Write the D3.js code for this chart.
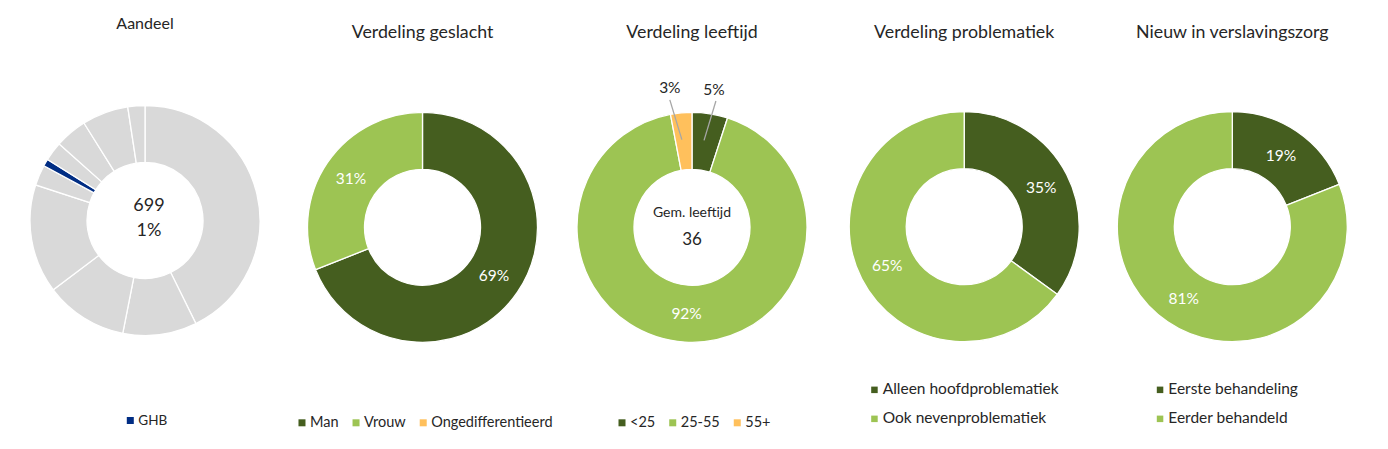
<!DOCTYPE html>
<html>
<head>
<meta charset="utf-8">
<script src="https://cdn.jsdelivr.net/npm/d3@7"></script>
<style>
  html, body { margin: 0; padding: 0; background: #fff; }
  svg text { font-family: Lato, "Open Sans", sans-serif; }
</style>
</head>
<body>
<div id="chart"></div>
<script>
/* ── Data ──────────────────────────────────────────────────── */
const titles = ['Aandeel', 'Verdeling geslacht', 'Verdeling leeftijd',
                'Verdeling problematiek', 'Nieuw in verslavingszorg'];

// share of GHB among all main problems (other slices are the other substances)
const shareValues = [42.7, 10.4, 11.6, 15.3, 2.9, 1.0, 2.7, 4.5, 6.5, 2.4];
const shareHighlight = 5;
const shareLabels = ['GHB'];
const shareCount = '699';
const sharePct = '1%';

const genderLabels = ['Man', 'Vrouw', 'Ongedifferentieerd'];
const genderValues = [69, 31, 0];

const ageLabels = ['<25', '25-55', '55+'];
const ageValues = [5, 92, 3];
const ageMeanLabel = 'Gem. leeftijd';
const ageMean = '36';

const problemLabels = ['Alleen hoofdproblematiek', 'Ook nevenproblematiek'];
const problemValues = [35, 65];

const newLabels = ['Eerste behandeling', 'Eerder behandeld'];
const newValues = [19, 81];

/* ── Style ─────────────────────────────────────────────────── */
const C = {
  dark:   '#455e1f',
  light:  '#9dc453',
  orange: '#ffc05c',
  grey:   '#d9d9d9',
  blue:   '#002d84',
  text:   '#262626',
  leader: '#a6a6a6'
};

const W = 1388, H = 449;
const R_OUT = 115, R_IN = 58;
const R_MID = (R_OUT + R_IN) / 2;

const svg = d3.select('#chart').append('svg')
  .attr('width', W).attr('height', H);

const pie = d3.pie().sort(null).value(d => d);
const arc = d3.arc().innerRadius(R_IN).outerRadius(R_OUT);
const midArc = d3.arc().innerRadius(R_MID).outerRadius(R_MID);

/* ── Helpers ───────────────────────────────────────────────── */
function donut(g, values, colors) {
  const arcs = pie(values);
  g.selectAll('path')
    .data(arcs)
    .join('path')
    .attr('d', arc)
    .attr('fill', (d, i) => colors[i])
    .attr('stroke', '#fff')
    .attr('stroke-width', d => d.value > 0 ? 1.3 : 0);
  return arcs;
}

function pctLabels(g, arcs, skip) {
  arcs.forEach((a, i) => {
    if (a.value === 0 || (skip && skip.includes(i))) return;
    const [x, y] = midArc.centroid(a);
    g.append('text')
      .attr('x', x).attr('y', y + 5.5)
      .attr('text-anchor', 'middle')
      .attr('font-size', 15.5)
      .attr('fill', '#fff')
      .text(`${a.value}%`);
  });
}

function title(g, txt, y, size) {
  g.append('text')
    .attr('x', 0).attr('y', y)
    .attr('text-anchor', 'middle')
    .attr('font-size', size)
    .attr('fill', C.text)
    .text(txt);
}

// horizontal legend, centred on the chart column
function legendRow(g, labels, colors, y, size, cxOff) {
  const lg = g.append('g');
  let x = 0;
  labels.forEach((lab, i) => {
    lg.append('rect')
      .attr('x', x).attr('y', y - 8)
      .attr('width', 7).attr('height', 7)
      .attr('fill', colors[i]);
    const t = lg.append('text')
      .attr('x', x + 11.5).attr('y', y)
      .attr('font-size', size)
      .attr('fill', C.text)
      .text(lab);
    x += 11.5 + t.node().getComputedTextLength() + 14;
  });
  const w = x - 14;
  lg.attr('transform', `translate(${-w / 2 + (cxOff || 0)},0)`);
}

// vertical legend, two rows
function legendCol(g, labels, colors, x, y0, dy) {
  labels.forEach((lab, i) => {
    const y = y0 + i * dy;
    g.append('rect')
      .attr('x', x).attr('y', y - 7.7)
      .attr('width', 6.5).attr('height', 6.5)
      .attr('fill', colors[i]);
    g.append('text')
      .attr('x', x + 11.5).attr('y', y)
      .attr('font-size', 15.5)
      .attr('fill', C.text)
      .text(lab);
  });
}

/* ── 1. Aandeel ────────────────────────────────────────────── */
{
  const g = svg.append('g').attr('transform', 'translate(145,0)');
  title(g, titles[0], 28.5, 16);
  const dg = g.append('g').attr('transform', 'translate(0,220.5)');
  donut(dg, shareValues, shareValues.map((v, i) => i === shareHighlight ? C.blue : C.grey));
  dg.append('text').attr('x', 4).attr('y', -9.5)
    .attr('text-anchor', 'middle').attr('font-size', 18).attr('fill', C.text)
    .text(shareCount);
  dg.append('text').attr('x', 4).attr('y', 15)
    .attr('text-anchor', 'middle').attr('font-size', 18).attr('fill', C.text)
    .text(sharePct);
  legendRow(g, shareLabels, [C.blue], 425, 13.5, 2);
}

/* ── 2. Verdeling geslacht ─────────────────────────────────── */
{
  const g = svg.append('g').attr('transform', 'translate(422.5,0)');
  title(g, titles[1], 37.7, 17.8);
  const dg = g.append('g').attr('transform', 'translate(0,227.3)');
  const arcs = donut(dg, genderValues, [C.dark, C.light, C.orange]);
  pctLabels(dg, arcs);
  legendRow(g, genderLabels, [C.dark, C.light, C.orange], 427.3, 14.5, 3);
}

/* ── 3. Verdeling leeftijd ─────────────────────────────────── */
{
  const g = svg.append('g').attr('transform', 'translate(692,0)');
  title(g, titles[2], 37.7, 17.8);
  const dg = g.append('g').attr('transform', 'translate(0,227.3)');
  const cols = [C.dark, C.light, C.orange];
  const arcs = donut(dg, ageValues, cols);
  pctLabels(dg, arcs, [0, 2]);

  // small slices: outside labels with leader lines
  const outArc = d3.arc().innerRadius(140).outerRadius(140);
  [0, 2].forEach(i => {
    const a = arcs[i];
    const [cx0, cy0] = midArc.centroid(a);
    let [lx, ly] = outArc.centroid(a);
    if (i === 2) lx -= 9;
    dg.append('line')
      .attr('x1', lx + (i === 0 ? 2 : 0)).attr('y1', ly + 12)
      .attr('x2', cx0 - (i === 0 ? 1.5 : 2)).attr('y2', cy0 - 1.5)
      .attr('stroke', C.leader).attr('stroke-width', 1.3);
    dg.append('text')
      .attr('x', lx).attr('y', ly + 5.5)
      .attr('text-anchor', 'middle')
      .attr('font-size', 15.5)
      .attr('fill', C.text)
      .text(`${a.value}%`);
  });

  dg.append('text').attr('x', 0).attr('y', -10.5)
    .attr('text-anchor', 'middle').attr('font-size', 14).attr('fill', C.text)
    .text(ageMeanLabel);
  dg.append('text').attr('x', 0).attr('y', 17.7)
    .attr('text-anchor', 'middle').attr('font-size', 17).attr('fill', C.text)
    .text(ageMean);
  legendRow(g, ageLabels, cols, 427.3, 14.5, 2.5);
}

/* ── 4. Verdeling problematiek ─────────────────────────────── */
{
  const g = svg.append('g').attr('transform', 'translate(964.2,0)');
  title(g, titles[3], 37.7, 17.8);
  const dg = g.append('g').attr('transform', 'translate(0,226.7)');
  const arcs = donut(dg, problemValues, [C.dark, C.light]);
  pctLabels(dg, arcs);
  legendCol(g, problemLabels, [C.dark, C.light], -93, 394.3, 29);
}

/* ── 5. Nieuw in verslavingszorg ───────────────────────────── */
{
  const g = svg.append('g').attr('transform', 'translate(1232.3,0)');
  title(g, titles[4], 37.7, 17.8);
  const dg = g.append('g').attr('transform', 'translate(0,226.7)');
  const arcs = donut(dg, newValues, [C.dark, C.light]);
  pctLabels(dg, arcs);
  legendCol(g, newLabels, [C.dark, C.light], -75.5, 394.3, 29);
}
</script>
</body>
</html>
